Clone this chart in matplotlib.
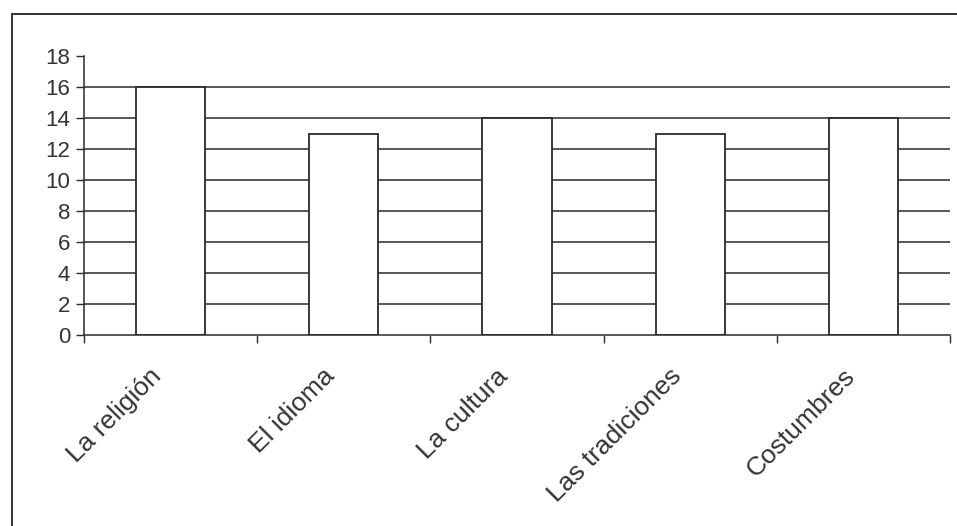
import numpy as np
import matplotlib.pyplot as plt
from matplotlib.lines import Line2D
from matplotlib.transforms import ScaledTranslation

plt.rcParams['font.family'] = ['Liberation Sans', 'DejaVu Sans']

categories = ['La religión', 'El idioma', 'La cultura', 'Las tradiciones', 'Costumbres']
values = [16, 13, 14, 13, 14]
y_ticks = [0, 2, 4, 6, 8, 10, 12, 14, 16, 18]

fig = plt.figure(figsize=(9.57, 5.26), dpi=100)
ax = fig.add_axes([84/957, 1 - 335/526, (950 - 84)/957, (335 - 56)/526])

x = np.arange(len(categories))
line_col = '#2a2a2a'

# gridlines (none drawn at the top value)
for yv in y_ticks[1:-1]:
    ax.axhline(yv, color=line_col, lw=1.1, zorder=1)

ax.bar(x, values, width=0.4, color='white', edgecolor=line_col, linewidth=1.3, zorder=2)

ax.set_xlim(-0.5, len(categories) - 0.5)
ax.set_ylim(0, 18)
ax.set_yticks(y_ticks)
ax.set_yticklabels([str(v) for v in y_ticks], fontsize=16, color='#333333')

# category boundary ticks on x axis, labels at centres
ax.set_xticks(np.arange(len(categories) + 1) - 0.5)
ax.set_xticklabels([])
ax.set_xticks(x, minor=True)
ax.set_xticklabels(categories, minor=True, rotation=45, ha='right',
                   rotation_mode='anchor', fontsize=19, color='#333333')
ax.tick_params(axis='x', which='minor', length=0, pad=21)
ax.tick_params(axis='x', which='major', length=6, width=1, color=line_col, direction='out')
ax.tick_params(axis='y', length=6, width=1, color=line_col, direction='out', pad=4)

shift = ScaledTranslation(-21/100, 0, fig.dpi_scale_trans)
for lab in ax.get_xticklabels(minor=True):
    lab.set_transform(lab.get_transform() + shift)

for s in ['top', 'right']:
    ax.spines[s].set_visible(False)
for s in ['left', 'bottom']:
    ax.spines[s].set_color(line_col)
    ax.spines[s].set_linewidth(1.1)

# outer frame of the chart area (left and top edges visible)
fig.add_artist(Line2D([12/957, 12/957], [0, 1 - 14/526], color='#333333', lw=1.4,
                      transform=fig.transFigure))
fig.add_artist(Line2D([12/957, 1], [1 - 14/526, 1 - 14/526], color='#333333', lw=1.4,
                      transform=fig.transFigure))

fig.savefig('out.png', dpi=100)
